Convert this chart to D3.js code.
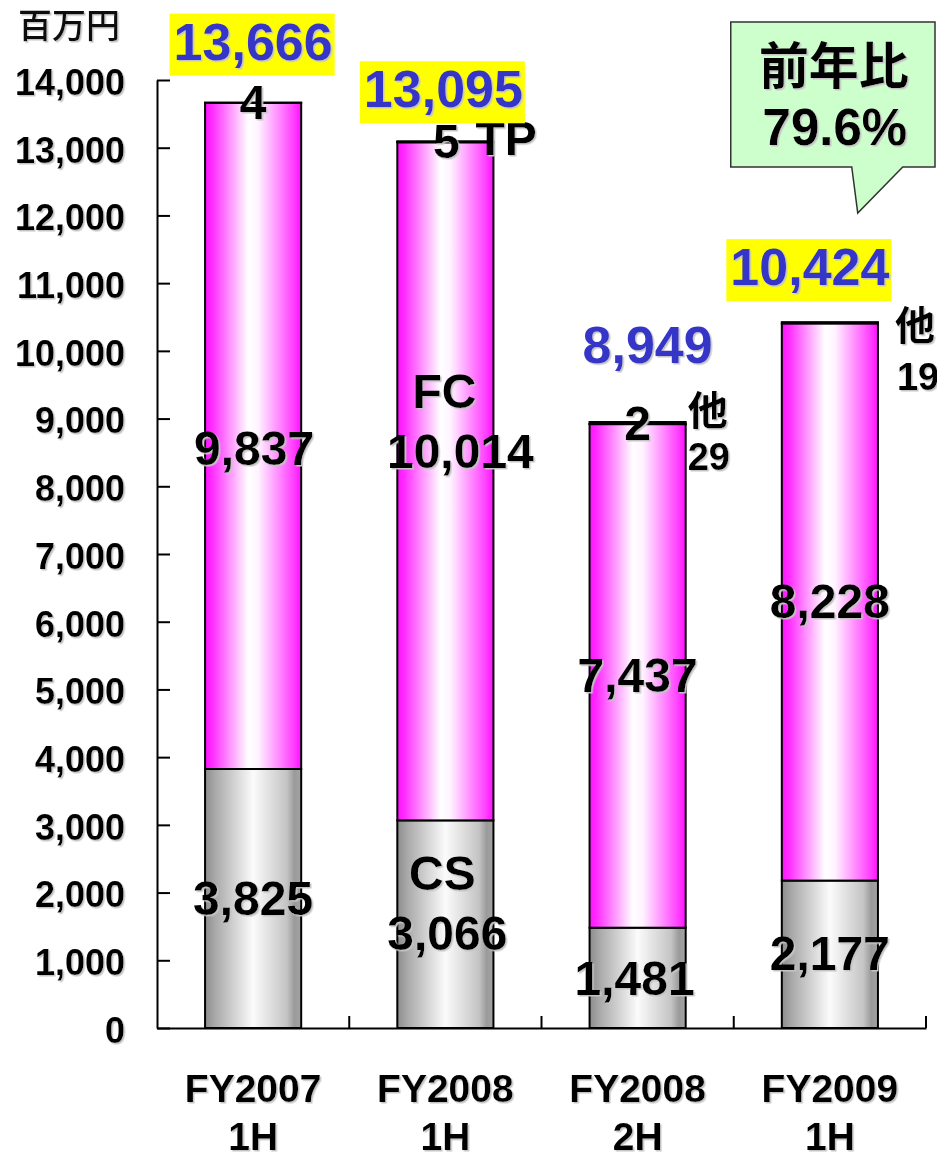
<!DOCTYPE html>
<html><head><meta charset="utf-8">
<script src="https://cdn.jsdelivr.net/npm/d3@7"></script>
<style>
html,body{margin:0;padding:0;background:#fff;}
svg{display:block;}
</style></head>
<body>
<script>
// ---- data ----
const categories = ["FY2007 1H", "FY2008 1H", "FY2008 2H", "FY2009 1H"];
const csValues = [3825, 3066, 1481, 2177];
const fcValues = [9837, 10014, 7437, 8228];
const tpValues = [4, 5, 2, 0];
const otherValues = [0, 10, 29, 19];
const totals = [13666, 13095, 8949, 10424];
const yTicks = [0, 1000, 2000, 3000, 4000, 5000, 6000, 7000, 8000, 9000, 10000, 11000, 12000, 13000, 14000];
const unitLabel = "百万円";
const yoyLines = ["前年比", "79.6%"];

// ---- layout ----
const W = 937, H = 1155;
const svg = d3.select("body").append("svg").attr("width", W).attr("height", H);
const defs = svg.append("defs");

const f = defs.append("filter").attr("id", "sh").attr("x", "-10%").attr("y", "-10%").attr("width", "130%").attr("height", "130%");
f.append("feDropShadow").attr("dx", 1.5).attr("dy", 1.5).attr("stdDeviation", 0.5).attr("flood-color", "#c4c4c4").attr("flood-opacity", 1);

function grad(id, stops) {
  const g = defs.append("linearGradient").attr("id", id).attr("x1", "0").attr("x2", "1").attr("y1", "0").attr("y2", "0");
  stops.forEach(s => g.append("stop").attr("offset", s[0]).attr("stop-color", s[1]));
}
grad("gMag", [[0, "#ff10ff"], [0.08, "#ff30ff"], [0.45, "#ffffff"], [0.55, "#fff4ff"], [0.92, "#ff40ff"], [1, "#ff10ff"]]);
grad("gGray", [[0, "#8c8c8c"], [0.1, "#a8a8a8"], [0.5, "#fbfbfb"], [0.85, "#c4c4c4"], [0.93, "#9a9a9a"], [1, "#a4a4a4"]]);

const x = d3.scaleBand().domain(categories).range([157, 926]).padding(0);
const y = d3.scaleLinear().domain([0, 14000]).range([1028, 80]);
const bw = x.bandwidth() * 0.5;
const cx = i => x(categories[i]) + x.bandwidth() / 2;

const FONT = "'Liberation Sans', Arial, sans-serif";
const CJK = "'Noto Sans CJK JP', 'Noto Sans CJK SC', sans-serif";

// ---- stacked bars ----
const rows = categories.map((c, i) => ({cat: c, cs: csValues[i], fc: fcValues[i], tp: tpValues[i], other: otherValues[i]}));
const stack = d3.stack().keys(["cs", "fc", "tp", "other"])(rows);
const fills = {cs: "url(#gGray)", fc: "url(#gMag)", tp: "#ffffff", other: "#ffffff"};

stack.forEach(layer => {
  svg.append("g").selectAll("rect").data(layer).join("rect")
    .attr("x", d => x(d.data.cat) + (x.bandwidth() - bw) / 2)
    .attr("width", bw)
    .attr("y", d => y(d[1]))
    .attr("height", d => Math.max(0, y(d[0]) - y(d[1])))
    .attr("fill", fills[layer.key])
    .attr("stroke", "#000")
    .attr("stroke-width", 2);
});

// ---- axes ----
const yAxis = d3.axisLeft(y).tickValues(yTicks).tickFormat(d3.format(",")).tickSizeInner(-13).tickSizeOuter(0).tickPadding(32);
const gy = svg.append("g").attr("transform", "translate(157,0)").call(yAxis);
gy.select(".domain").attr("stroke", "#000").attr("stroke-width", 2);
gy.selectAll(".tick line").attr("stroke", "#000").attr("stroke-width", 2);
gy.selectAll(".tick text").attr("font-family", FONT).attr("font-size", 36).attr("font-weight", "bold")
  .attr("fill", "#000").attr("dy", "0.4em").attr("filter", "url(#sh)");

const xAxis = d3.axisBottom(x).tickSize(0).tickPadding(0).tickFormat("");
const gx = svg.append("g").attr("transform", "translate(0,1028)").call(xAxis);
gx.select(".domain").attr("stroke", "#000").attr("stroke-width", 2);
// boundary ticks (inward)
gx.append("g").selectAll("line").data(categories).join("line")
  .attr("x1", d => x(d) + x.bandwidth()).attr("x2", d => x(d) + x.bandwidth())
  .attr("y1", 0).attr("y2", -12).attr("stroke", "#000").attr("stroke-width", 2);
// category labels
gx.selectAll(".tick").each(function(d) {
  const t = d3.select(this).select("text");
  t.text(null).attr("dy", null).attr("y", null)
    .attr("font-family", FONT).attr("font-size", 39).attr("font-weight", "bold").attr("fill", "#000")
    .attr("filter", "url(#sh)");
  const parts = d.split(" ");
  t.append("tspan").attr("x", 0).attr("y", 74).text(parts[0]);
  t.append("tspan").attr("x", 0).attr("y", 122).text(parts[1]);
});

// ---- unit label ----
svg.append("text").attr("x", 18).attr("y", 38).attr("font-family", CJK).attr("font-size", 34)
  .attr("font-weight", "500").attr("fill", "#111").attr("filter", "url(#sh)").text(unitLabel);

// ---- helper for text ----
function label(g, xx, yy, txt, opts = {}) {
  return g.append("text").attr("x", xx).attr("y", yy)
    .attr("text-anchor", opts.anchor || "middle")
    .attr("font-family", opts.family || FONT)
    .attr("font-size", opts.size || 48)
    .attr("font-weight", "bold")
    .attr("fill", opts.fill || "#000")
    .attr("filter", "url(#sh)")
    .text(txt);
}
const L = svg.append("g");

// segment value labels (CS and FC), centered in segments
const fmt = d3.format(",");
const csDx = [0, 2, -3, 0], csDy = [17, 26, 17, 16];
const fcDx = [1, 15, 0, 0], fcDy = [29, -13, 16, 16];
categories.forEach((c, i) => {
  const csMid = csValues[i] / 2;
  label(L, cx(i) + csDx[i], y(csMid) + csDy[i], fmt(csValues[i]));
  const fcMid = csValues[i] + fcValues[i] / 2;
  label(L, cx(i) + fcDx[i], y(fcMid) + fcDy[i], fmt(fcValues[i]));
});
// series names on the second bar
label(L, cx(1) - 3, y(csValues[1] / 2) - 34, "CS");
label(L, cx(1) - 1, y(csValues[1] + fcValues[1] / 2) - 73, "FC");

// small top segments
label(L, cx(0), y(totals[0]) + 16, fmt(tpValues[0]));
label(L, cx(1) + 1, y(totals[1]) + 17, fmt(tpValues[1]));
label(L, cx(1) + 30, y(totals[1]) + 14, "TP", {anchor: "start"});
label(L, cx(2), y(totals[2]) + 18, fmt(tpValues[2]));
const rightEdge = i => cx(i) + bw / 2;
label(L, rightEdge(2) + 2, y(totals[2]) + 3, "他", {anchor: "start", family: CJK, size: 40});
label(L, rightEdge(2) + 2, y(totals[2]) + 48, fmt(otherValues[2]), {anchor: "start", size: 38});
label(L, rightEdge(3) + 17, y(totals[3]) + 18, "他", {anchor: "start", family: CJK, size: 40});
label(L, rightEdge(3) + 19, y(totals[3]) + 68, fmt(otherValues[3]), {anchor: "start", size: 38});

// totals (blue, yellow box)
const totDx = [0, -2, 10, -20], totDy = [-43, -34, -59, -37];
const boxed = [true, true, false, true];
totals.forEach((v, i) => {
  const g = svg.append("g");
  const t = label(g, cx(i) + totDx[i], y(v) + totDy[i], fmt(v), {size: 52, fill: "#3535c8"});
  if (boxed[i]) {
    const bb = t.node().getBBox();
    g.insert("rect", "text").attr("x", bb.x - 4).attr("y", bb.y + 1).attr("width", bb.width + 6).attr("height", bb.height + 4)
      .attr("fill", "#ffff00");
  }
});

// ---- YoY callout ----
const bx0 = x(categories[3]) - 3, bx1 = 935, by0 = 22, by1 = 167;
const cg = svg.append("g");
cg.append("path")
  .attr("d", `M${bx0},${by0}H${bx1}V${by1}H${bx0 + 172}L${bx0 + 127},213L${bx0 + 121},${by1}H${bx0}Z`)
  .attr("fill", "#ccffcc").attr("stroke", "#333").attr("stroke-width", 1.5);
label(cg, (bx0 + bx1) / 2 + 1, 84, yoyLines[0], {family: CJK, size: 50});
label(cg, (bx0 + bx1) / 2 + 2, 145, yoyLines[1], {size: 51});
</script>
</body></html>
